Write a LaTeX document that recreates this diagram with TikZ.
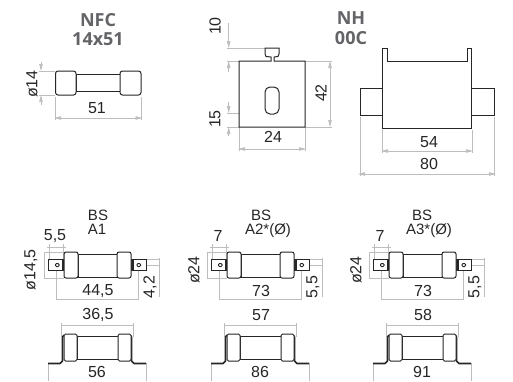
\documentclass[tikz,border=0pt]{standalone}
\usepackage{fontspec}
\setmainfont{Liberation Sans}
\newfontfamily\titlefont{Open Sans}
\usetikzlibrary{arrows.meta}
\definecolor{dimgray}{HTML}{BDBDBD}
\definecolor{titlegray}{HTML}{636467}
\definecolor{partline}{HTML}{262626}
\tikzset{
    part/.style={draw=partline, line width=1pt, fill=white},
    dimline/.style={draw=dimgray, line width=0.7pt},
    dimtip/.style={dimline, -{Triangle[length=7pt, width=3.4pt, fill=dimgray]}},
    dimboth/.style={dimline, {Triangle[length=7pt, width=3.4pt, fill=dimgray]}-{Triangle[length=7pt, width=3.4pt, fill=dimgray]}},
    dimlabel/.style={inner sep=0pt, text=black!85, font=\fontsize{16}{16}\selectfont},
    titlelabel/.style={inner sep=0pt, text=titlegray, font=\titlefont\bfseries\fontsize{18}{18}\selectfont},
    bslabel/.style={inner sep=0pt, text=black!85, font=\fontsize{15}{15}\selectfont},
}
% #1 shift, #2 name, #3 pin, #4 diameter, #5 length, #6 side, #7 top, #8 foot
\newcommand{\BsFuse}[8]{
    \begin{scope}[xshift=#1pt]
        % upper view, dimensions first
        \draw[dimline] (49,244) -- (49,259);
        \draw[dimline] (63,244) -- (63,259);
        \draw[dimline] (47,247) -- (66,247);
        \draw[dimline] (44,252) -- (64,252);
        \draw[dimline] (44,278) -- (64,278);
        \draw[dimline] (44.5,252) -- (44.5,278);
        \draw[dimline] (56,265) -- (56,300);
        \draw[dimline] (138,265) -- (138,300);
        \draw[dimline] (56,299) -- (138,299);
        \draw[dimline] (146,259.5) -- (160,259.5);
        \draw[dimline] (146,265) -- (160,265);
        \draw[dimline] (159,258) -- (159,297);
        \draw[part] (48.5,259) rectangle (65,270);
        \draw[part] (131,259) rectangle (146,270);
        \fill[partline] (62,259) rectangle (65,270);
        \fill[partline] (131,259) rectangle (134,270);
        \draw[part, rounded corners=1pt] (55.5,263.5) rectangle (59,266.5);
        \draw[part, rounded corners=1pt] (137,263.5) rectangle (140.5,266.5);
        \draw[part] (78,254.5) rectangle (117,277);
        \draw[part, rounded corners=2pt] (64,252) rectangle (78,278);
        \draw[part, rounded corners=2pt] (117,252) rectangle (131,278);
        \node[dimlabel] (#2pin) at (55,236) {#3};
        \node[dimlabel, rotate=90] (#2dia) at (31,270) {#4};
        \node[dimlabel] (#2len) at (98,291) {#5};
        \node[dimlabel, rotate=90] (#2side) at (150,287) {#6};
        % lower view
        \draw[dimline] (61,325) -- (133,325);
        \draw[dimline] (61,323) -- (61,337);
        \draw[dimline] (133,323) -- (133,337);
        \draw[dimline] (48,363) -- (48,381);
        \draw[dimline] (146,363) -- (146,381);
        \draw[partline, line width=1.6pt, line join=round] (48,363.5) -- (60,363.5) -- (62.5,361) -- (62.5,337) -- (64,335);
        \draw[partline, line width=1.6pt, line join=round] (146,363.5) -- (134,363.5) -- (131.5,361) -- (131.5,337) -- (130,335);
        \draw[part] (77,336.5) rectangle (118,359);
        \draw[part, rounded corners=1.5pt] (64,334) rectangle (77,361);
        \draw[part, rounded corners=1.5pt] (118,334) rectangle (131,361);
        \node[dimlabel] (#2top) at (98,315) {#7};
        \node[dimlabel] (#2foot) at (97,372) {#8};
    \end{scope}
}

\begin{document}
\begin{tikzpicture}[x=1pt, y=-1pt]
    \useasboundingbox[fill=white] (0,0) rectangle (513,381);

    % NFC 14x51
    \node[titlelabel] (nfcA) at (98,20) {NFC};
    \node[titlelabel] (nfcB) at (98,39) {14x51};
    \draw[dimline] (39,71) -- (55,71);
    \draw[dimline] (39,95) -- (55,95);
    \draw[dimtip] (41,62) -- (41,71);
    \draw[dimtip] (41,105) -- (41,95);
    \draw[dimline] (55,97) -- (55,120);
    \draw[dimline] (141.5,97) -- (141.5,120);
    \draw[dimboth] (54,118) -- (142.5,118);
    \draw[part] (76,74) rectangle (120,91);
    \draw[part, rounded corners=2.5pt] (55.5,71) rectangle (76,95);
    \draw[part, rounded corners=2.5pt] (120,71) rectangle (141,95);
    \node[dimlabel] (nfcLen) at (97,108) {51};
    \node[dimlabel, rotate=90] (nfcDia) at (32,84) {ø14};

    % NH 00C
    \node[titlelabel] (nhA) at (351,18) {NH};
    \node[titlelabel] (nhB) at (351,38) {00C};

    % NH 00C, blade
    \draw[dimline] (227,48) -- (265,48);
    \draw[dimline] (227,61) -- (239,61);
    \draw[dimline] (227,113) -- (264,113);
    \draw[dimline] (227,127) -- (239,127);
    \draw[dimtip] (228.7,23) -- (228.7,48);
    \draw[dimtip] (228.7,72) -- (228.7,61);
    \draw[dimtip] (228.7,102) -- (228.7,113);
    \draw[dimtip] (228.7,136) -- (228.7,127);
    \draw[dimline] (239,127) -- (239,151);
    \draw[dimline] (305,127) -- (305,151);
    \draw[dimboth] (238,149) -- (306,149);
    \draw[dimline] (305,61) -- (332,61);
    \draw[dimline] (305,127) -- (332,127);
    \draw[dimboth] (330,61) -- (330,127);
    \draw[part] (239,61) -- (271,61) -- (271,57) -- (266,56.5) -- (265,54) -- (265,48) -- (279,48) -- (279,54) -- (278,56.5) -- (274,57) -- (274,61) -- (305,61) -- (305,127) -- (239,127) -- cycle;
    \draw[part, rounded corners=5pt] (265,87) rectangle (279,114);
    \node[dimlabel, rotate=90] (bladeTab) at (215,26) {10};
    \node[dimlabel, rotate=90] (bladeSlot) at (215,119) {15};
    \node[dimlabel] (bladeWidth) at (273,137) {24};
    \node[dimlabel, rotate=90] (bladeHeight) at (321,93) {42};

    % NH 00C, body
    \draw[dimline] (360,117) -- (360,176);
    \draw[dimline] (494,117) -- (494,176);
    \draw[dimboth] (358,174) -- (496,174);
    \draw[dimline] (382,130) -- (382,153);
    \draw[dimline] (472,130) -- (472,153);
    \draw[dimboth] (381,151) -- (473,151);
    \draw[part] (360,88) rectangle (382,115);
    \draw[part] (471,88) rectangle (494,115);
    \draw[part] (382,48) -- (387,48) -- (387,61) -- (467,61) -- (467,48) -- (471.5,48) -- (471.5,128) -- (382,128) -- cycle;
    \node[dimlabel] (bodyInner) at (429,142) {54};
    \node[dimlabel] (bodyOuter) at (429,164) {80};

    % BS
    \node[bslabel] (aoneA) at (98,215) {BS};
    \node[bslabel] (aoneB) at (97,229) {A1};
    \BsFuse{0}{aone}{5,5}{ø14,5}{44,5}{4,2}{36,5}{56}
    \node[bslabel] (atwoA) at (261,215) {BS};
    \node[bslabel] (atwoB) at (268,230.5) {A2*(Ø)};
    \BsFuse{163}{atwo}{7}{ø24}{73}{5,5}{57}{86}
    \node[bslabel] (athreeA) at (422,215) {BS};
    \node[bslabel] (athreeB) at (429,230.5) {A3*(Ø)};
    \BsFuse{325}{athree}{7}{ø24}{73}{5,5}{58}{91}
\end{tikzpicture}
\end{document}
